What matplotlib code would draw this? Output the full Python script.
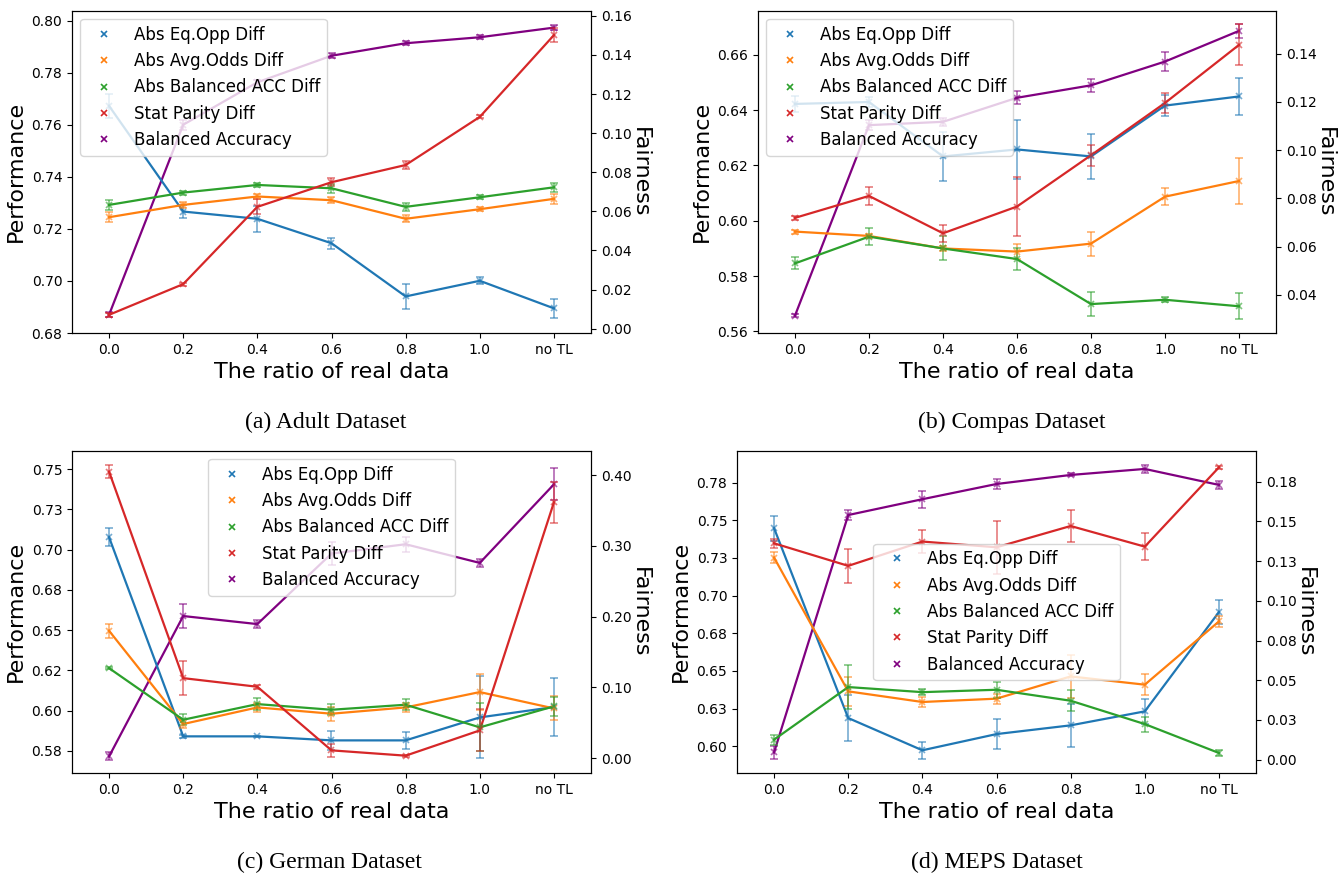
import numpy as np
import matplotlib
matplotlib.use("Agg")
import matplotlib.pyplot as plt
from matplotlib.lines import Line2D

# x categories and series names
ratios = ["0.0", "0.2", "0.4", "0.6", "0.8", "1.0", "no TL"]
metrics = ["Abs Eq.Opp Diff", "Abs Avg.Odds Diff", "Abs Balanced ACC Diff",
           "Stat Parity Diff", "Balanced Accuracy"]
colors = ["tab:blue", "tab:orange", "tab:green", "tab:red", "purple"]

# --- Adult ---
adult_vals = {
    "Abs Eq.Opp Diff":       [0.1139, 0.0599, 0.0562, 0.0437, 0.0165, 0.0245, 0.0104],
    "Abs Avg.Odds Diff":     [0.0570, 0.0633, 0.0676, 0.0657, 0.0562, 0.0611, 0.0664],
    "Abs Balanced ACC Diff": [0.0633, 0.0696, 0.0735, 0.0718, 0.0623, 0.0672, 0.0723],
    "Stat Parity Diff":      [0.0071, 0.0228, 0.0623, 0.0749, 0.0837, 0.1083, 0.1501],
    "Balanced Accuracy":     [0.6870, 0.7600, 0.7763, 0.7865, 0.7913, 0.7936, 0.7973],
}
adult_errs = {
    "Abs Eq.Opp Diff":       [0.0060, 0.0034, 0.0066, 0.0028, 0.0066, 0.0019, 0.0049],
    "Abs Avg.Odds Diff":     [0.0026, 0.0015, 0.0015, 0.0015, 0.0017, 0.0010, 0.0024],
    "Abs Balanced ACC Diff": [0.0025, 0.0010, 0.0012, 0.0024, 0.0020, 0.0010, 0.0023],
    "Stat Parity Diff":      [0.0010, 0.0008, 0.0038, 0.0020, 0.0020, 0.0008, 0.0036],
    "Balanced Accuracy":     [0.0010, 0.0020, 0.0010, 0.0010, 0.0008, 0.0007, 0.0010],
}

# --- Compas ---
compas_vals = {
    "Abs Eq.Opp Diff":       [0.1192, 0.1200, 0.0974, 0.1003, 0.0974, 0.1185, 0.1223],
    "Abs Avg.Odds Diff":     [0.0662, 0.0644, 0.0592, 0.0579, 0.0612, 0.0807, 0.0872],
    "Abs Balanced ACC Diff": [0.0530, 0.0641, 0.0592, 0.0548, 0.0361, 0.0379, 0.0352],
    "Stat Parity Diff":      [0.0719, 0.0810, 0.0655, 0.0766, 0.0979, 0.1196, 0.1437],
    "Balanced Accuracy":     [0.5657, 0.6346, 0.6358, 0.6445, 0.6490, 0.6576, 0.6687],
}
compas_errs = {
    "Abs Eq.Opp Diff":       [0.0032, 0.0020, 0.0100, 0.0124, 0.0092, 0.0043, 0.0076],
    "Abs Avg.Odds Diff":     [0.0008, 0.0010, 0.0010, 0.0030, 0.0050, 0.0035, 0.0097],
    "Abs Balanced ACC Diff": [0.0025, 0.0035, 0.0050, 0.0045, 0.0050, 0.0010, 0.0054],
    "Stat Parity Diff":      [0.0007, 0.0036, 0.0036, 0.0123, 0.0043, 0.0040, 0.0085],
    "Balanced Accuracy":     [0.0005, 0.0018, 0.0015, 0.0024, 0.0024, 0.0033, 0.0026],
}

# --- German ---
german_vals = {
    "Abs Eq.Opp Diff":       [0.3120, 0.0306, 0.0306, 0.0249, 0.0249, 0.0574, 0.0720],
    "Abs Avg.Odds Diff":     [0.1798, 0.0480, 0.0715, 0.0626, 0.0715, 0.0932, 0.0701],
    "Abs Balanced ACC Diff": [0.1270, 0.0541, 0.0762, 0.0682, 0.0753, 0.0433, 0.0730],
    "Stat Parity Diff":      [0.4047, 0.1129, 0.1007, 0.0108, 0.0033, 0.0390, 0.3614],
    "Balanced Accuracy":     [0.5715, 0.6587, 0.6537, 0.6975, 0.7033, 0.6917, 0.7405],
}
german_errs = {
    "Abs Eq.Opp Diff":       [0.0125, 0.0020, 0.0010, 0.0134, 0.0120, 0.0580, 0.0410],
    "Abs Avg.Odds Diff":     [0.0095, 0.0060, 0.0066, 0.0100, 0.0060, 0.0260, 0.0170],
    "Abs Balanced ACC Diff": [0.0015, 0.0075, 0.0080, 0.0077, 0.0075, 0.0340, 0.0130],
    "Stat Parity Diff":      [0.0094, 0.0240, 0.0030, 0.0087, 0.0015, 0.0296, 0.0290],
    "Balanced Accuracy":     [0.0025, 0.0074, 0.0025, 0.0072, 0.0047, 0.0025, 0.0100],
}

# --- MEPS ---
meps_vals = {
    "Abs Eq.Opp Diff":       [0.1457, 0.0262, 0.0059, 0.0161, 0.0216, 0.0304, 0.0929],
    "Abs Avg.Odds Diff":     [0.1272, 0.0430, 0.0363, 0.0384, 0.0524, 0.0472, 0.0870],
    "Abs Balanced ACC Diff": [0.0126, 0.0457, 0.0425, 0.0440, 0.0371, 0.0224, 0.0042],
    "Stat Parity Diff":      [0.1362, 0.1220, 0.1373, 0.1337, 0.1471, 0.1341, 0.1840],
    "Balanced Accuracy":     [0.5960, 0.7535, 0.7640, 0.7741, 0.7801, 0.7841, 0.7735],
}
meps_errs = {
    "Abs Eq.Opp Diff":       [0.0080, 0.0145, 0.0055, 0.0096, 0.0136, 0.0080, 0.0077],
    "Abs Avg.Odds Diff":     [0.0034, 0.0090, 0.0030, 0.0031, 0.0138, 0.0068, 0.0035],
    "Abs Balanced ACC Diff": [0.0031, 0.0136, 0.0020, 0.0049, 0.0066, 0.0047, 0.0020],
    "Stat Parity Diff":      [0.0030, 0.0105, 0.0073, 0.0168, 0.0101, 0.0086, 0.0010],
    "Balanced Accuracy":     [0.0044, 0.0034, 0.0057, 0.0030, 0.0010, 0.0024, 0.0027],
}

# tick labels as printed in the figure (some panels use 0.025 steps)
german_perf_labels = ["0.58", "0.60", "0.62", "0.65", "0.68", "0.70", "0.73", "0.75"]
german_fair_labels = ["0.00", "0.10", "0.20", "0.30", "0.40"]
meps_perf_labels = ["0.60", "0.63", "0.65", "0.68", "0.70", "0.73", "0.75", "0.78"]
meps_fair_labels = ["0.00", "0.03", "0.05", "0.08", "0.10", "0.13", "0.15", "0.18"]

W, H = 1344, 876
fig = plt.figure(figsize=(W / 100, H / 100), dpi=100)


def px_rect(l, t, r, b):
    return [l / W, 1 - b / H, (r - l) / W, (b - t) / H]


def draw_panel(rect, vals, errs, perf_lim, fair_lim, perf_ticks, fair_ticks,
               legend_loc, caption, cap_xy, perf_labels=None, fair_labels=None):
    ax = fig.add_axes(rect)
    ax2 = ax.twinx()
    x = np.arange(len(ratios))
    for name, c in zip(metrics, colors):
        tgt = ax if name == "Balanced Accuracy" else ax2
        tgt.plot(x, vals[name], color=c, lw=1.6)
        tgt.errorbar(x, vals[name], yerr=errs[name], fmt="x", color=c, ms=4,
                     mew=1.2, capsize=3, elinewidth=1.2, alpha=0.6)

    ax.set_xlim(-0.5, len(ratios) - 0.5)
    ax.set_xticks(x)
    ax.set_xticklabels(ratios)
    ax.set_ylim(*perf_lim)
    ax2.set_ylim(*fair_lim)
    ax.set_yticks(perf_ticks)
    ax2.set_yticks(fair_ticks)
    if perf_labels is not None:
        ax.set_yticklabels(perf_labels)
    else:
        ax.set_yticklabels([f"{t:.2f}" for t in perf_ticks])
    if fair_labels is not None:
        ax2.set_yticklabels(fair_labels)
    else:
        ax2.set_yticklabels([f"{t:.2f}" for t in fair_ticks])
    ax.tick_params(labelsize=10)
    ax2.tick_params(labelsize=10)

    ax.set_xlabel("The ratio of real data", fontsize=16)
    ax.set_ylabel("Performance", fontsize=16)
    ax2.set_ylabel("Fairness", fontsize=16, rotation=270, va="bottom", labelpad=-1)

    handles = [Line2D([], [], marker="x", ls="none", color=c, ms=4, mew=1.2)
               for c in colors]
    ax2.legend(handles, metrics, loc=legend_loc, fontsize=12)

    fig.text(cap_xy[0] / W, 1 - cap_xy[1] / H, caption, ha="center", va="center",
             fontsize=17, family="Liberation Serif")


draw_panel(px_rect(72, 10.7, 591, 333), adult_vals, adult_errs,
           (0.68, 0.8038), (-0.0022, 0.1626),
           np.arange(0.68, 0.801, 0.02), np.arange(0.0, 0.161, 0.02),
           "upper left", "(a) Adult Dataset", (326, 422))

draw_panel(px_rect(758, 10.7, 1276, 333), compas_vals, compas_errs,
           (0.5594, 0.676), (0.0241, 0.1579),
           np.arange(0.56, 0.661, 0.02), np.arange(0.04, 0.141, 0.02),
           "upper left", "(b) Compas Dataset", (1012, 422))

draw_panel(px_rect(72, 450.7, 591, 773), german_vals, german_errs,
           (0.5612, 0.7614), (-0.0212, 0.4344),
           np.arange(0.575, 0.7501, 0.025), np.arange(0.0, 0.401, 0.1),
           "upper center", "(c) German Dataset", (329, 862),
           perf_labels=german_perf_labels, fair_labels=german_fair_labels)

draw_panel(px_rect(737, 450.7, 1256, 773), meps_vals, meps_errs,
           (0.5823, 0.7962), (-0.0084, 0.1945),
           np.arange(0.60, 0.7751, 0.025), np.arange(0.0, 0.1751, 0.025),
           "center", "(d) MEPS Dataset", (997, 862),
           perf_labels=meps_perf_labels, fair_labels=meps_fair_labels)

fig.savefig("out.png", dpi=100)
